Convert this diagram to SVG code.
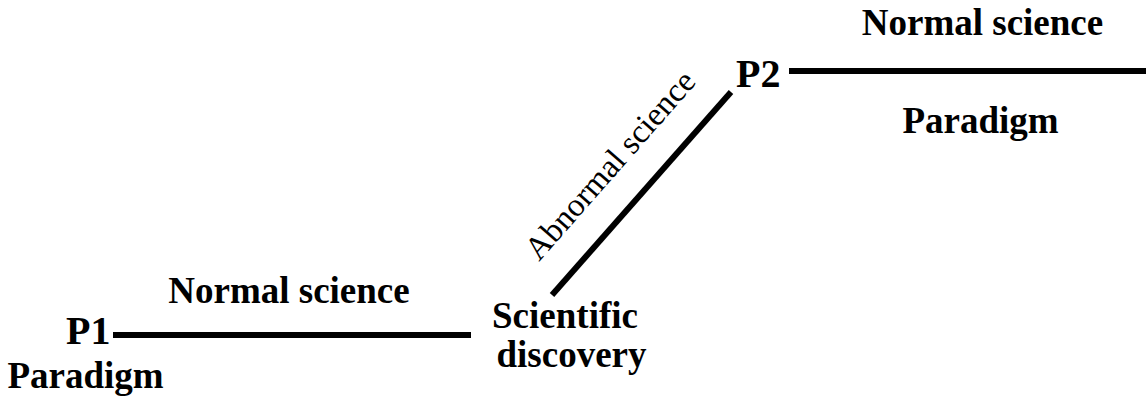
<svg xmlns="http://www.w3.org/2000/svg" width="1146" height="400" viewBox="0 0 1146 400">
<style>
.b{font-family:"Liberation Serif","Times New Roman",serif;font-weight:bold;fill:#000}
.r{font-family:"Liberation Serif","Times New Roman",serif;fill:#000}
.ln{stroke:#000;stroke-width:6;fill:none}
</style>
<rect width="1146" height="400" fill="#fff"/>
<g id="connectors">
<line class="ln" x1="113" y1="335" x2="471" y2="335"/>
<line class="ln" x1="552" y1="295" x2="731" y2="92"/>
<line class="ln" x1="789" y1="71" x2="1146" y2="71"/>
</g>
<g id="p1">
<text class="b" x="66" y="344" font-size="40">P1</text>
<text class="b" x="85.5" y="388" font-size="37" text-anchor="middle">Paradigm</text>
</g>
<g id="normal1">
<text class="b" x="289" y="303" font-size="37" text-anchor="middle">Normal science</text>
</g>
<g id="discovery">
<text class="b" x="565" y="328" font-size="37" text-anchor="middle">Scientific</text>
<text class="b" x="571.5" y="367" font-size="37" text-anchor="middle">discovery</text>
</g>
<g id="abnormal">
<text class="r" font-size="33" transform="translate(539,262) rotate(-48.6)">Abnormal science</text>
</g>
<g id="p2">
<text class="b" x="736" y="87" font-size="40">P2</text>
<text class="b" x="982.5" y="35" font-size="37" text-anchor="middle">Normal science</text>
<text class="b" x="980.5" y="133" font-size="37" text-anchor="middle">Paradigm</text>
</g>
</svg>
